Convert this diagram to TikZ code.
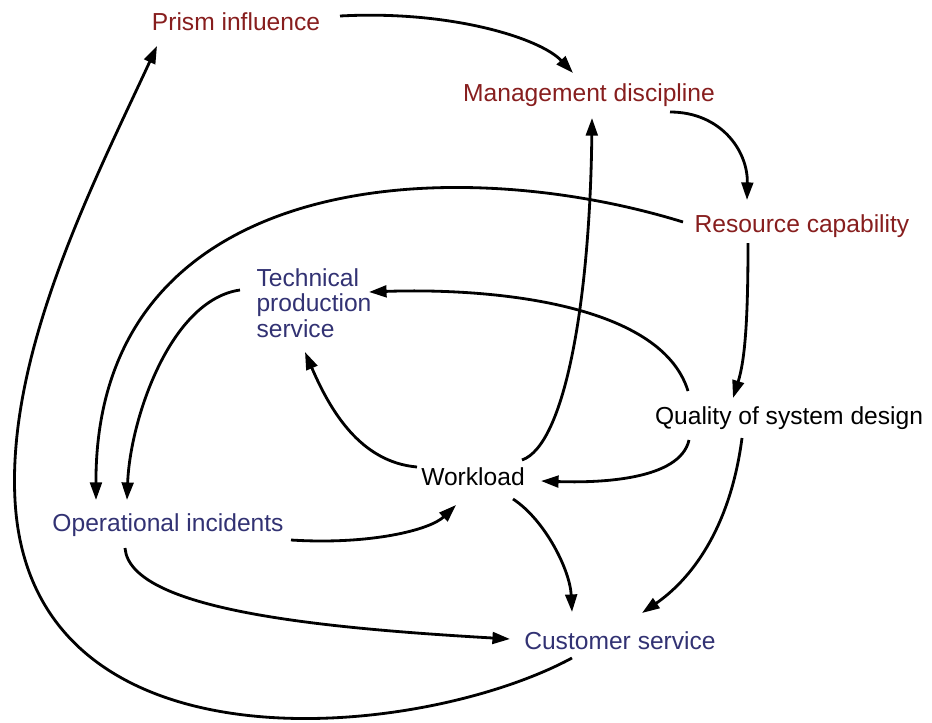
\documentclass[tikz,border=0pt]{standalone}
\usepackage{fontspec}
\setmainfont{Liberation Sans}
\usetikzlibrary{arrows.meta,calc}
\definecolor{lred}{RGB}{135,30,30}
\definecolor{lblue}{RGB}{50,50,115}
\begin{document}
\begin{tikzpicture}[x=0.03cm,y=-0.03cm,
  lbl/.style={inner sep=0pt,font=\fontsize{21}{22}\selectfont},
  redl/.style={lbl,text=lred},
  bluel/.style={lbl,text=lblue},
  blackl/.style={lbl,text=black},
  conn/.style={line width=2.4pt,-{Triangle[length=15pt,width=10pt]}}]
\useasboundingbox (0,0) rectangle (932,722);
\node[redl] (prism) at (236,22) {Prism influence};
\node[redl] (mgmt) at (589,95) {Management discipline};
\node[redl] (res) at (802,226) {Resource capability};
\node[bluel,align=left] (tps) at (314,303) {Technical\\production\\service};
\node[blackl] (qual) at (789,418) {Quality of system design};
\node[blackl] (work) at (473,477) {Workload};
\node[bluel] (ops) at (168,525) {Operational incidents};
\node[bluel] (cust) at (620,641) {Customer service};
% connectors
\draw[conn] ($(prism)+(104,-6)$) .. controls (450,10) and (540,38) .. ($(mgmt)+(-16,-22)$);
\draw[conn] ($(mgmt)+(81,17)$) .. controls (720,112) and (748,150) .. ($(res)+(-55,-26)$);
\draw[conn] ($(res)+(-119,-4)$) .. controls (450,150) and (95,170) .. ($(ops)+(-72,-25)$);
\draw[conn] ($(res)+(-54,17)$) .. controls (748,320) and (745,360) .. ($(qual)+(-56,-20)$);
\draw[conn] ($(qual)+(-101,-27)$) .. controls (660,300) and (480,288) .. ($(tps)+(55,-11)$);
\draw[conn] ($(qual)+(-100,22)$) .. controls (680,480) and (600,483) .. ($(work)+(68,4)$);
\draw[conn] ($(qual)+(-47,20)$) .. controls (730,530) and (690,580) .. ($(cust)+(22,-28)$);
\draw[conn] ($(work)+(-56,-10)$) .. controls (360,462) and (330,410) .. ($(tps)+(-9,49)$);
\draw[conn] ($(work)+(49,-17)$) .. controls (565,445) and (590,300) .. ($(mgmt)+(3,23)$);
\draw[conn] ($(tps)+(-74,-13)$) .. controls (170,300) and (130,420) .. ($(ops)+(-41,-25)$);
\draw[conn] ($(ops)+(123,15)$) .. controls (370,545) and (430,530) .. ($(work)+(-17,28)$);
\draw[conn] ($(work)+(40,22)$) .. controls (545,520) and (570,570) .. ($(cust)+(-48,-29)$);
\draw[conn] ($(ops)+(-43,23)$) .. controls (130,610) and (320,628) .. ($(cust)+(-110,-2)$);
\coordinate (outer) at (15,500);
\draw[conn] ($(cust)+(-48,17)$) .. controls (420,740) and (30,780) .. (outer) .. controls (7,350) and (95,180) .. ($(prism)+(-79,24)$);
\end{tikzpicture}
\end{document}
